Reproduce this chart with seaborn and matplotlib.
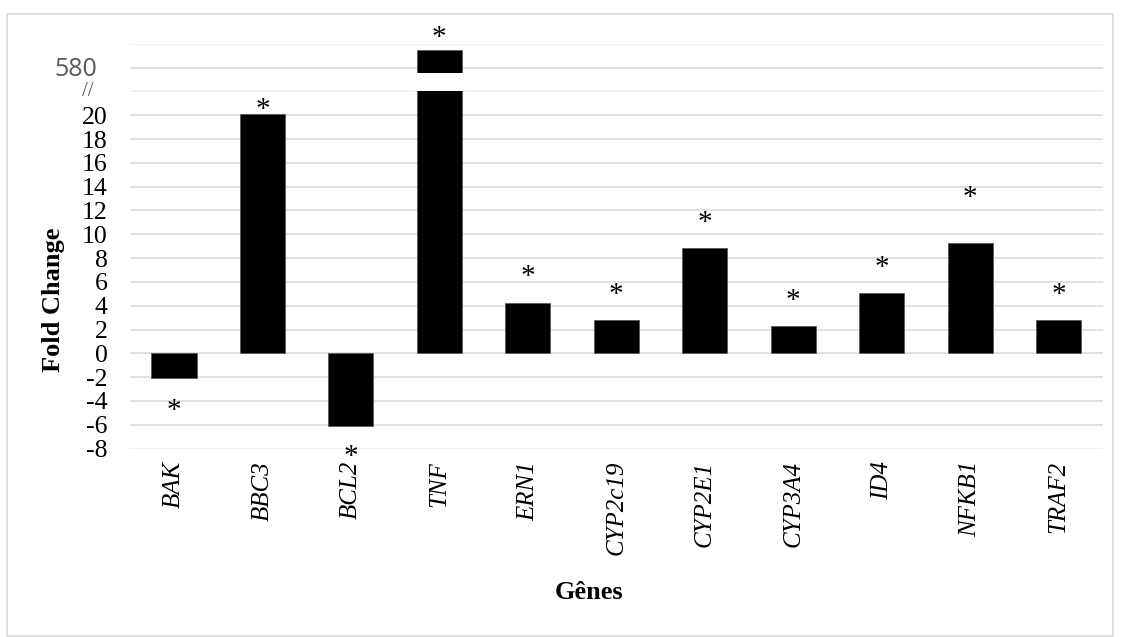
import matplotlib
matplotlib.use("Agg")
import matplotlib.pyplot as plt
import matplotlib.transforms as mtransforms
from matplotlib.patches import Rectangle
import seaborn as sns
import pandas as pd

# Gene expression (fold change) per gene
genes = ["BAK", "BBC3", "BCL2", "TNF", "ERN1", "CYP2c19", "CYP2E1",
         "CYP3A4", "ID4", "NFKB1", "TRAF2"]
# TNF (about 580-fold) is drawn on the broken upper segment of the axis
fold_change = [-2.05, 20.15, -6.1, 25.5, 4.2, 2.83, 8.82, 2.29, 5.04, 9.3, 2.77]
# vertical position of the significance asterisk for each gene
star_y = [-4.35, 21.0, -8.2, 27.0, 6.9, 5.4, 11.5, 4.9, 7.7, 13.6, 5.46]

y_ticks = list(range(-8, 27, 2))
y_tick_labels = [str(t) if t <= 20 else "" for t in y_ticks]
break_tick = 24
break_label = "580"
break_low, break_high = 22.0, 23.55
faint_ticks = [-8, 22, 26]

sns.set_theme(style="whitegrid")
plt.rcParams["font.family"] = ["Liberation Serif", "DejaVu Serif"]

fig = plt.figure(figsize=(11.21, 6.37), dpi=100)
ax = fig.add_axes([0.1157, 0.2959, 0.8682, 0.6352])

df = pd.DataFrame({"Gene": genes, "Fold": fold_change})
sns.barplot(data=df, x="Gene", y="Fold", color="black", saturation=1,
            width=0.51, edgecolor="#595959", linewidth=0.6, ax=ax)

# axis break across the TNF bar
tnf = genes.index("TNF")
ax.add_patch(Rectangle((tnf - 0.3, break_low), 0.6, break_high - break_low,
                       facecolor="white", edgecolor="none", zorder=3))

ax.set_ylim(-8, 26)
ax.set_xlim(-0.5, len(genes) - 0.5)
ax.set_yticks(y_ticks)
ax.set_yticklabels(y_tick_labels, fontsize=18.5, color="black")
ax.set_xticks(range(len(genes)))
ax.set_xticklabels(genes, rotation=90, fontsize=18, style="italic", color="black")
ax.tick_params(axis="y", length=0, pad=16)
ax.tick_params(axis="x", length=0, pad=9)

ax.set_axisbelow(True)
ax.xaxis.grid(False)
ax.yaxis.grid(True, color="#d9d9d9", linewidth=1.1)
for t, gl in zip(y_ticks, ax.yaxis.get_gridlines()):
    if t in faint_ticks:
        gl.set_color("#efefef")
for s in ax.spines.values():
    s.set_visible(False)
ax.set_facecolor("white")

# broken-axis label and marker
ytrans = ax.get_yaxis_transform()
ax.text(-0.0336, break_tick, break_label, transform=mtransforms.offset_copy(
            ytrans, fig=fig, y=-6.2, units="points"),
        ha="right", va="baseline", fontsize=18, color="#595959",
        family=["Open Sans", "DejaVu Sans"], clip_on=False)
ax.text(-0.0434, break_low, "//", transform=ytrans, ha="center", va="center",
        fontsize=15, color="#595959", clip_on=False)

# significance asterisks
star_trans = mtransforms.offset_copy(ax.transData, fig=fig, y=-9.5, units="points")
for i, y in enumerate(star_y):
    ax.text(i, y, "*", transform=star_trans, ha="center", va="baseline",
            fontsize=21, color="black", clip_on=False)

ax.set_ylabel("Fold Change", fontsize=19, fontweight="bold", color="black")
ax.yaxis.label.set_va("center")
ax.yaxis.set_label_coords(-0.0788, 0.368)
ax.set_xlabel("Gênes", fontsize=19, fontweight="bold", color="black")
ax.xaxis.label.set_va("center")
ax.xaxis.set_label_coords(0.472, -0.3547)

# light frame around the chart
fig.patches.append(Rectangle((7 / 1121, 1 - 636 / 637), 1106 / 1121, 622 / 637,
                             transform=fig.transFigure, fill=False,
                             edgecolor="#d9d9d9", linewidth=1.2))

fig.savefig("out.png", dpi=100, facecolor="white")
